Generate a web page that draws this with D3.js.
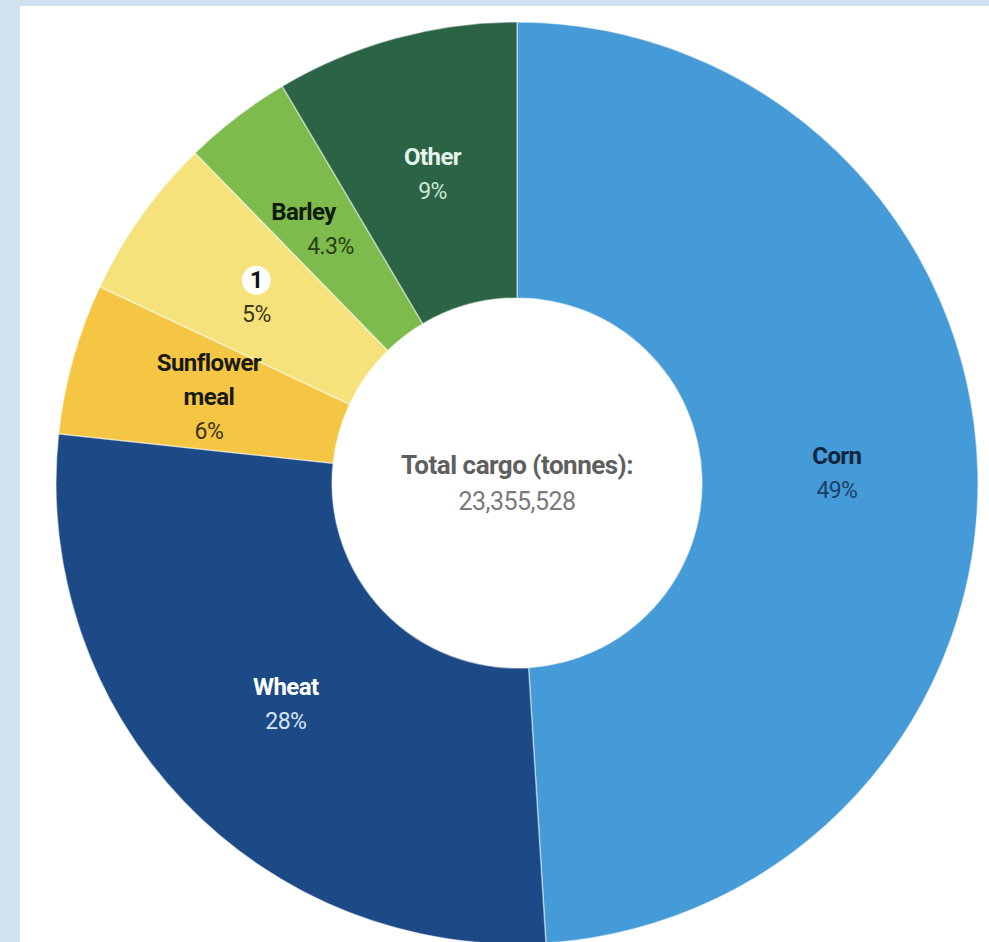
<!DOCTYPE html>
<html>
<head>
<meta charset="utf-8">
<script src="https://cdn.jsdelivr.net/npm/d3@7"></script>
<style>
  body { margin: 0; background: #d0e1f2; }
  svg { display: block; }
</style>
</head>
<body>
<script>
// Slice data (shares in % of total cargo)
const categories = ['Corn', 'Wheat', 'Sunflower meal', '1', 'Barley', 'Other'];
const shares = [49.0, 27.7, 5.3, 5.7, 3.8, 8.5];
const pctLabels = ['49%', '28%', '6%', '5%', '4.3%', '9%'];
const colors = ['#459bd7', '#1c4a87', '#f5c643', '#f6e27a', '#7cbb4c', '#2a6445'];
const nameColors = ['#0e2540', '#ffffff', '#1a1a12', '#111111', '#101a08', '#e6f3ea'];
const pctColors = ['#1e3e66', '#d6e5f5', '#3a3418', '#3b3718', '#2a3d15', '#cfe6d8'];
const totalLabel = 'Total cargo (tonnes):';
const totalValue = '23,355,528';

const width = 989, height = 942;
const cx = 517, cy = 483;
const outerR = 461, innerR = 185, labelR = 320;
const FONT = 'Roboto, "Liberation Sans", sans-serif';

const svg = d3.select('body').append('svg')
    .attr('width', width)
    .attr('height', height);

// light blue frame and white panel
svg.append('rect')
    .attr('width', width).attr('height', height)
    .attr('fill', '#d0e1f2');
svg.append('rect')
    .attr('x', 20).attr('y', 6)
    .attr('width', width - 20).attr('height', height - 6)
    .attr('fill', '#ffffff');

const data = categories.map((c, i) => ({
    name: c, value: shares[i], pct: pctLabels[i],
    color: colors[i], nameColor: nameColors[i], pctColor: pctColors[i]
}));

const pie = d3.pie().sort(null).value(d => d.value);
const arcs = pie(data);

const arc = d3.arc().innerRadius(innerR).outerRadius(outerR);
const labelArc = d3.arc().innerRadius(labelR).outerRadius(labelR);

const g = svg.append('g').attr('transform', `translate(${cx},${cy})`);

g.selectAll('path.slice')
    .data(arcs)
    .join('path')
    .attr('class', 'slice')
    .attr('d', arc)
    .attr('fill', d => d.data.color)
    .attr('stroke', 'rgba(255,255,255,0.45)')
    .attr('stroke-width', 1.5);

// slice labels: name lines (bold) then percentage
const lineH = 34;
const labels = g.selectAll('g.label')
    .data(arcs)
    .join('g')
    .attr('class', 'label')
    .attr('transform', d => `translate(${labelArc.centroid(d)})`);

labels.each(function(d) {
    const el = d3.select(this);
    const nameLines = d.data.name === 'Sunflower meal' ? ['Sunflower', 'meal'] : [d.data.name];
    const n = nameLines.length + 1;
    const y0 = -lineH * (n - 1) / 2 + 8;
    // Barley's label is set a little off-centre in the original
    const nameDx = d.data.name === 'Barley' ? -19 : 0;
    const pctDx = d.data.name === 'Barley' ? 8 : 0;
    nameLines.forEach((t, i) => {
        if (t === '1') {
            el.append('circle')
                .attr('cx', 0).attr('cy', y0 + lineH * i - 8)
                .attr('r', 14.5)
                .attr('fill', '#ffffff');
        }
        el.append('text')
            .attr('x', nameDx).attr('y', y0 + lineH * i)
            .attr('text-anchor', 'middle')
            .style('font-family', FONT)
            .style('font-weight', 700)
            .style('font-size', t === '1' ? '23px' : '24px')
            .style('letter-spacing', '-0.6px')
            .attr('fill', d.data.nameColor)
            .text(t);
    });
    el.append('text')
        .attr('x', pctDx)
        .attr('y', y0 + lineH * nameLines.length)
        .attr('text-anchor', 'middle')
        .style('font-family', FONT)
        .style('font-size', '23px')
        .style('letter-spacing', '-0.6px')
        .attr('fill', d.data.pctColor)
        .text(d.data.pct);
});

// centre text
g.append('text')
    .attr('x', 0).attr('y', -9)
    .attr('text-anchor', 'middle')
    .style('font-family', FONT)
    .style('font-weight', 700)
    .style('font-size', '26px')
    .style('letter-spacing', '-0.5px')
    .attr('fill', '#5f5f5f')
    .text(totalLabel);

g.append('text')
    .attr('x', 0).attr('y', 27)
    .attr('text-anchor', 'middle')
    .style('font-family', FONT)
    .style('font-size', '25px')
    .style('letter-spacing', '-0.5px')
    .attr('fill', '#7a7a7a')
    .text(totalValue);
</script>
</body>
</html>
